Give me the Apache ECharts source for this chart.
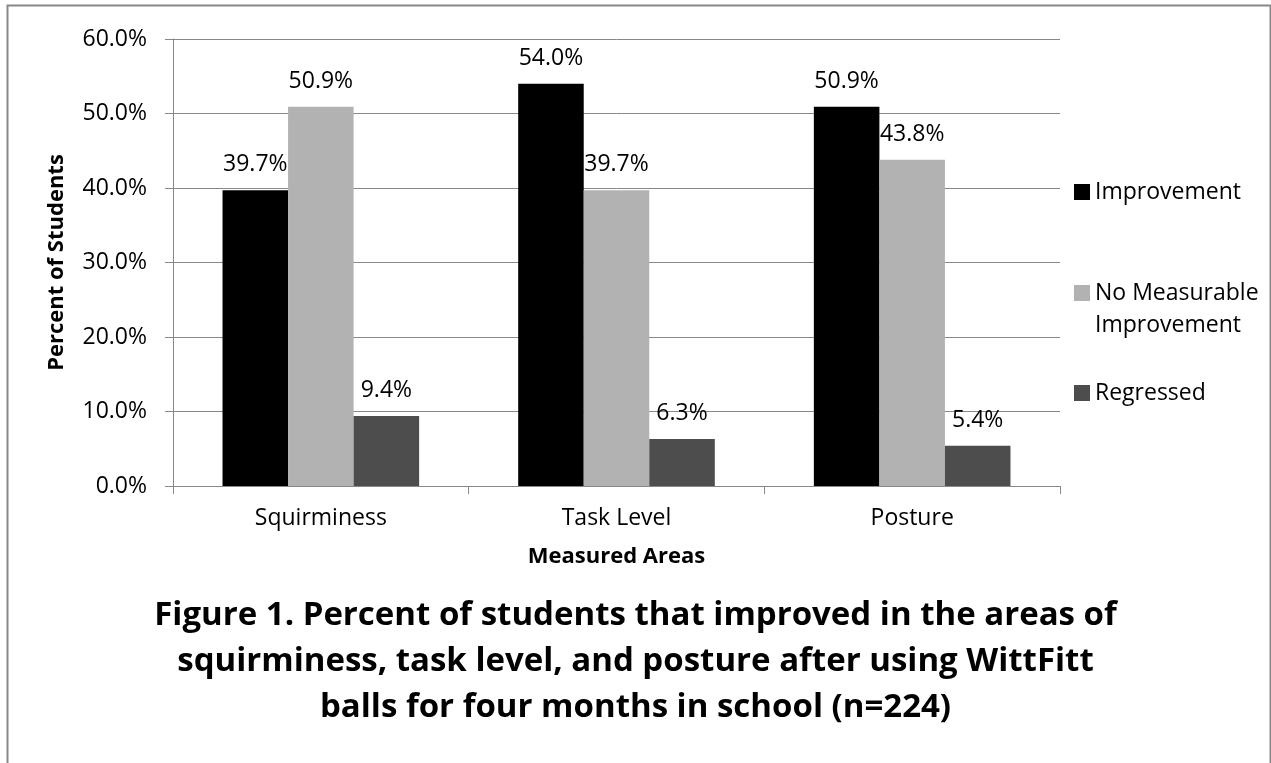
<!DOCTYPE html>
<html>
<head>
<meta charset="utf-8">
<script src="https://cdn.jsdelivr.net/npm/echarts@6/dist/echarts.min.js"></script>
<style>
html,body{margin:0;padding:0;background:#fff;}
#chart{width:1271px;height:763px;}
</style>
</head>
<body>
<div id="chart"></div>
<script>
const categories = ['Squirminess', 'Task Level', 'Posture'];
const improvement = [39.7, 54.0, 50.9];
const noMeasurable = [50.9, 39.7, 43.8];
const regressed = [9.4, 6.3, 5.4];
const seriesNames = ['Improvement', 'No Measurable\nImprovement', 'Regressed'];
const yTicks = { min: 0, max: 60, interval: 10 };
const titleText = 'Figure 1. Percent of students that improved in the areas of\nsquirminess, task level, and posture after using WittFitt\nballs for four months in school (n=224)';

const FONT = '"Open Sans", sans-serif';
const colors = ['#000000', '#b2b2b2', '#4d4d4d'];
const AX = '#888888';

const chart = echarts.init(document.getElementById('chart'), null, {renderer: 'canvas'});

function barSeries(name, data, color) {
  return {
    name: name, type: 'bar', data: data,
    barGap: '0%', barCategoryGap: '33.5%',
    itemStyle: { color: color },
    label: {
      show: true, position: 'top', distance: 14,
      formatter: p => p.value.toFixed(1) + '%',
      fontFamily: FONT, fontSize: 23, color: '#000'
    }
  };
}

const legendSquare = 'path://M0,0H16V16H0Z';
const legendSquareTall = 'path://M0,0H16V16H0ZM0,48L0.001,48';
const legendText = { fontFamily: FONT, fontSize: 23, lineHeight: 32, color: '#000' };

chart.setOption({
  animation: false,
  backgroundColor: '#fff',
  title: {
    text: titleText, left: 'center', top: 588,
    textStyle: { fontFamily: FONT, fontWeight: 'bold', fontSize: 33, lineHeight: 46, color: '#000' }
  },
  legend: [
    { data: [seriesNames[0]], left: 1074, top: 176, padding: 0, itemWidth: 16, itemHeight: 16, icon: legendSquare, textStyle: legendText },
    { data: [seriesNames[1]], left: 1074, top: 277, padding: 0, itemWidth: 16, itemHeight: 48, icon: legendSquareTall, textStyle: legendText },
    { data: [seriesNames[2]], left: 1074, top: 377, padding: 0, itemWidth: 16, itemHeight: 16, icon: legendSquare, textStyle: legendText }
  ],
  grid: { left: 173, right: 211, top: 39, bottom: 277, containLabel: false },
  xAxis: {
    type: 'category', data: categories,
    name: 'Measured Areas', nameLocation: 'middle', nameGap: 60,
    nameTextStyle: { fontFamily: FONT, fontWeight: 'bold', fontSize: 22, color: '#000' },
    axisLine: { lineStyle: { color: AX, width: 1 } },
    axisTick: { show: true, length: 8, lineStyle: { color: AX } },
    axisLabel: { fontFamily: FONT, fontSize: 23, color: '#000', margin: 21 },
    splitLine: { show: false }
  },
  yAxis: {
    type: 'value', min: yTicks.min, max: yTicks.max, interval: yTicks.interval,
    name: 'Percent of Students', nameLocation: 'middle', nameRotate: 90, nameGap: 105,
    nameTextStyle: { fontFamily: FONT, fontWeight: 'bold', fontSize: 22, color: '#000' },
    axisLine: { show: true, lineStyle: { color: AX, width: 1 } },
    axisTick: { show: true, length: 8, lineStyle: { color: AX } },
    axisLabel: { fontFamily: FONT, fontSize: 23, color: '#000', margin: 26, formatter: v => v.toFixed(1) + '%' },
    splitLine: { show: true, lineStyle: { color: AX, width: 1 } }
  },
  graphic: [{
    type: 'rect', left: 5, top: 3, silent: true,
    shape: { width: 1263, height: 790 },
    style: { fill: 'none', stroke: '#888', lineWidth: 2 }
  }],
  series: [
    barSeries(seriesNames[0], improvement, colors[0]),
    barSeries(seriesNames[1], noMeasurable, colors[1]),
    barSeries(seriesNames[2], regressed, colors[2])
  ]
});
</script>
</body>
</html>
